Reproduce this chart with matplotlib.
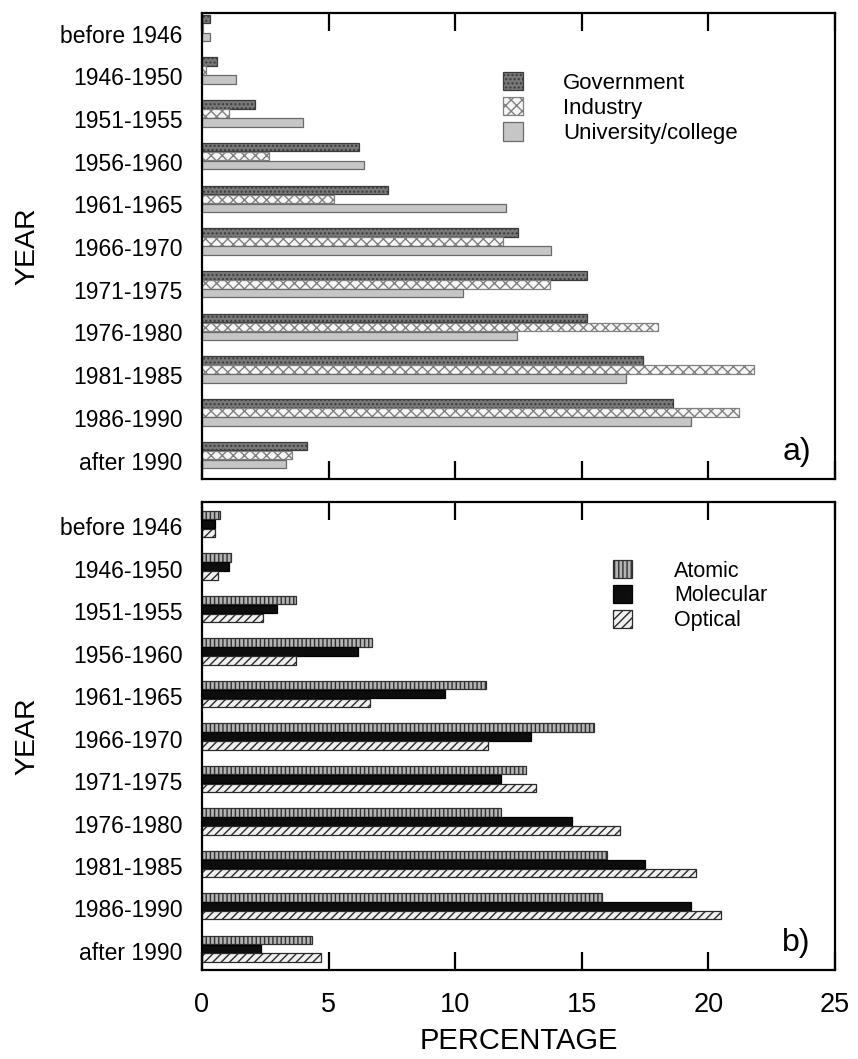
import matplotlib
matplotlib.use("Agg")
import matplotlib.pyplot as plt
import matplotlib.patches as mpatches
import numpy as np

plt.rcParams['font.family'] = ['Liberation Sans', 'DejaVu Sans']
plt.rcParams['hatch.linewidth'] = 1.0

years = ["before 1946", "1946-1950", "1951-1955", "1956-1960", "1961-1965",
         "1966-1970", "1971-1975", "1976-1980", "1981-1985", "1986-1990",
         "after 1990"]

government = [0.3, 0.6, 2.1, 6.2, 7.35, 12.5, 15.2, 15.2, 17.4, 18.6, 4.15]
industry = [0.05, 0.15, 1.05, 2.65, 5.2, 11.9, 13.75, 18.0, 21.8, 21.2, 3.55]
university = [0.3, 1.35, 4.0, 6.4, 12.0, 13.8, 10.3, 12.45, 16.75, 19.3, 3.3]

atomic = [0.7, 1.15, 3.7, 6.7, 11.2, 15.5, 12.8, 11.8, 16.0, 15.8, 4.35]
molecular = [0.5, 1.05, 2.95, 6.15, 9.6, 13.0, 11.8, 14.6, 17.5, 19.3, 2.35]
optical = [0.5, 0.65, 2.4, 3.7, 6.65, 11.3, 13.2, 16.5, 19.5, 20.5, 4.7]

xticks = [0, 5, 10, 15, 20, 25]

fig = plt.figure(figsize=(8.58, 10.59), dpi=100)
ax1 = fig.add_axes([0.2354, 0.5477, 0.7378, 0.4400])
ax2 = fig.add_axes([0.2354, 0.0840, 0.7378, 0.4420])

styles_a = [
    dict(facecolor='#787878', edgecolor='#3a3a3a', hatch='....'),
    dict(facecolor='#f6f6f6', edgecolor='#808080', hatch='xxx'),
    dict(facecolor='#c6c6c6', edgecolor='#6a6a6a', hatch=None),
]
styles_b = [
    dict(facecolor='#b4b4b4', edgecolor='#303030', hatch='||||'),
    dict(facecolor='#0d0d0d', edgecolor='#000000', hatch=None),
    dict(facecolor='#f0f0f0', edgecolor='#2a2a2a', hatch='////'),
]

def draw(ax, series, labels, styles, tag, ylim, lab_off):
    y = np.arange(len(years))
    h = 0.2
    offs = [-0.21, 0.0, 0.21]
    handles = []
    for s, off, st, lab in zip(series, offs, styles, labels):
        ax.barh(y + off, s, height=h, linewidth=0.9, label=lab, **st)
        handles.append(mpatches.Patch(label=lab, linewidth=0.9, **st))
    ax.set_xlim(0, 25)
    ax.set_ylim(*ylim)
    ax.set_yticks(y + lab_off)
    ax.set_yticklabels(years, fontsize=16.5)
    ax.tick_params(axis='y', length=0, pad=14)
    ax.set_xticks(xticks)
    ax.tick_params(axis='x', direction='in', length=13, width=1.6, top=True,
                   labelsize=19.5, pad=16)
    for sp in ax.spines.values():
        sp.set_linewidth(1.6)
    ax.set_ylabel("YEAR", fontsize=20.5, labelpad=14)
    ax.text(0.962, 0.025, tag, transform=ax.transAxes, ha='right', va='bottom',
            fontsize=23)
    return handles

h1 = draw(ax1, [government, industry, university],
          ["Government", "Industry", "University/college"], styles_a, "a)",
          (10.56, -0.35), 0.13)
ax1.tick_params(axis='x', labelbottom=False)
ax1.legend(handles=h1, loc='upper left', bbox_to_anchor=(0.4755, 0.874),
           frameon=False, fontsize=16, handlelength=0.9, handleheight=0.9,
           handletextpad=1.8, labelspacing=0.15, borderpad=0, borderaxespad=0)

h2 = draw(ax2, [atomic, molecular, optical],
          ["Atomic", "Molecular", "Optical"], styles_b, "b)",
          (10.5, -0.52), 0.05)
ax2.set_xlabel("PERCENTAGE", fontsize=21, labelpad=6)
ax2.legend(handles=h2, loc='upper left', bbox_to_anchor=(0.649, 0.875),
           frameon=False, fontsize=15.5, handlelength=0.9, handleheight=0.9,
           handletextpad=1.95, labelspacing=0.15, borderpad=0, borderaxespad=0)

fig.savefig("out.png", dpi=100)
